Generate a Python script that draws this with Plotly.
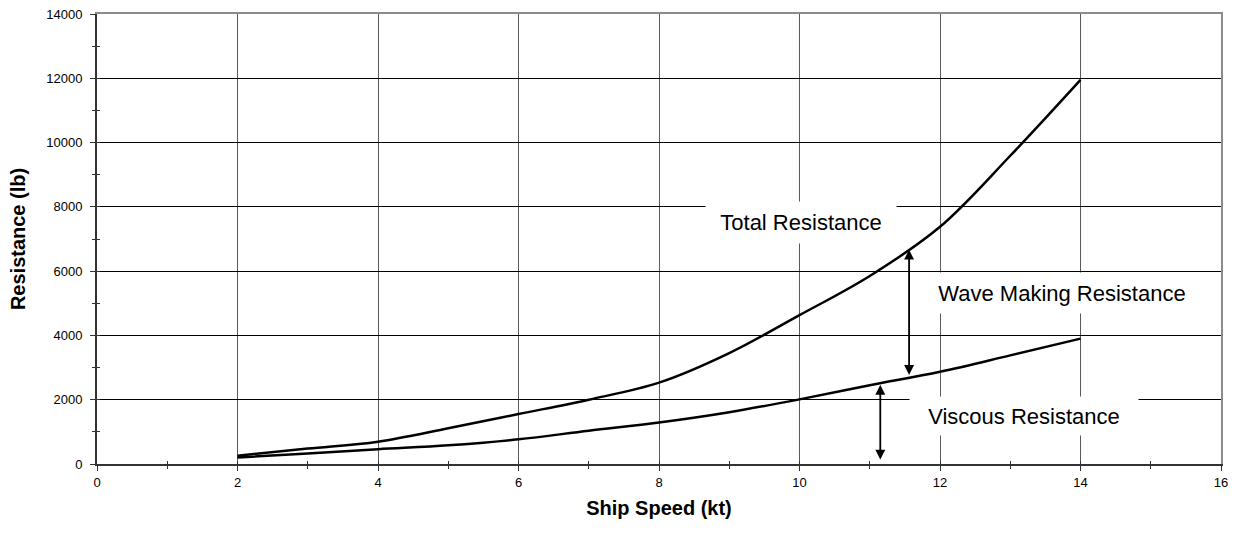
import numpy as np
import plotly.graph_objects as go

# Ship resistance curves
speed = [2, 3, 4, 5, 6, 7, 8, 9, 10, 11, 12, 13, 14]
total_resistance = [260, 480, 694, 1110, 1555, 2000, 2530, 3450, 4630, 5850, 7380, 9590, 11950]
viscous_resistance = [200, 330, 460, 580, 767, 1036, 1290, 1610, 2010, 2450, 2870, 3380, 3900]

wave_arrow_x = 11.56
viscous_arrow_x = 11.15

FONT = "Liberation Sans, Arial, sans-serif"

fig = go.Figure()

fig.add_trace(go.Scatter(x=speed, y=total_resistance, mode='lines', name='Total Resistance',
                         line=dict(color='black', width=2.5, shape='spline', smoothing=1.0),
                         showlegend=False))
fig.add_trace(go.Scatter(x=speed, y=viscous_resistance, mode='lines', name='Viscous Resistance',
                         line=dict(color='black', width=2.5, shape='spline', smoothing=1.0),
                         showlegend=False))

# empty traces so the helper axes (frame + crossing ticks) get drawn
fig.add_trace(go.Scatter(x=[], y=[], xaxis='x2', yaxis='y2', showlegend=False, hoverinfo='skip'))
fig.add_trace(go.Scatter(x=[], y=[], xaxis='x3', yaxis='y3', showlegend=False, hoverinfo='skip'))

# double headed arrows between the curves
top_wave = np.interp(wave_arrow_x, speed, total_resistance) - 40
bot_wave = np.interp(wave_arrow_x, speed, viscous_resistance) + 40
top_visc = np.interp(viscous_arrow_x, speed, viscous_resistance) - 50

arrow = dict(showarrow=True, arrowhead=2, arrowside='end+start', arrowsize=1.1, arrowwidth=1.8,
             arrowcolor='black', axref='x', ayref='y', text='', standoff=0, startstandoff=0)
fig.add_annotation(x=wave_arrow_x, y=top_wave, ax=wave_arrow_x, ay=bot_wave, **arrow)
fig.add_annotation(x=viscous_arrow_x, y=top_visc, ax=viscous_arrow_x, ay=90, **arrow)

# text labels with white boxes that hide the grid
label_font = dict(family=FONT, size=22, color='black')
fig.add_annotation(x=10.02, y=7520, text='Total Resistance', showarrow=False, font=label_font,
                   bgcolor='white', width=190, height=41, borderpad=0)
fig.add_annotation(x=13.73, y=5320, text='Wave Making Resistance', showarrow=False, font=label_font,
                   bgcolor='white', width=274, height=40, borderpad=0)
fig.add_annotation(x=13.19, y=1493, text='Viscous Resistance', showarrow=False, font=label_font,
                   bgcolor='white', width=228, height=38, borderpad=0)

tick_font = dict(family=FONT, size=13, color='black')
title_font = dict(family=FONT, size=20, color='black')

fig.update_layout(
    width=1239, height=533,
    margin=dict(l=97, r=18, t=14, b=69),
    paper_bgcolor='white', plot_bgcolor='white',
    font=dict(family=FONT, color='black'),
    xaxis=dict(range=[0, 16], dtick=2, tick0=0, tickformat='d', automargin=False,
               ticklabeloverflow='allow',
               showgrid=True, gridcolor='#5a5a5a', gridwidth=1,
               zeroline=False, showline=True, linecolor='#333333', linewidth=2,
               ticks='outside', ticklen=5, tickcolor='#333333', tickwidth=1,
               minor=dict(dtick=1, ticks='outside', ticklen=3, tickcolor='#333333', showgrid=False),
               tickfont=tick_font,
               title=dict(text='<b>Ship Speed (kt)</b>', font=title_font, standoff=12)),
    yaxis=dict(range=[0, 14000], dtick=2000, tick0=0, tickformat='d', automargin=False,
               ticklabeloverflow='allow', ticklabelstandoff=5,
               showgrid=True, gridcolor='black', gridwidth=1,
               zeroline=False, showline=True, linecolor='#333333', linewidth=2,
               ticks='outside', ticklen=5, tickcolor='#333333', tickwidth=1,
               minor=dict(dtick=1000, ticks='outside', ticklen=3, tickcolor='#333333', showgrid=False),
               tickfont=tick_font,
               title=dict(text='<b>Resistance (lb)</b>', font=title_font, standoff=15)),
    xaxis2=dict(range=[0, 16], overlaying='x', side='top', anchor='y2', automargin=False,
                showgrid=False, zeroline=False,
                showline=True, linecolor='#8c8c8c', linewidth=2, showticklabels=False, ticks=''),
    yaxis2=dict(range=[0, 14000], overlaying='y', side='right', anchor='x2', automargin=False,
                showgrid=False, zeroline=False,
                showline=True, linecolor='#8c8c8c', linewidth=2, showticklabels=False, ticks=''),
    xaxis3=dict(range=[0, 16], overlaying='x', side='bottom', anchor='y3', automargin=False,
                showgrid=False, zeroline=False,
                showline=False, showticklabels=False, dtick=1, ticks='inside', ticklen=3, tickcolor='#333333'),
    yaxis3=dict(range=[0, 14000], overlaying='y', side='left', anchor='x3', automargin=False,
                showgrid=False, zeroline=False,
                showline=False, showticklabels=False, dtick=1000, ticks='inside', ticklen=3, tickcolor='#333333'),
)

# drop the default 8px body margin so the chart fills the window exactly
fig.write_html("out.html", config={'displayModeBar': False},
               post_script="document.body.style.margin = '0';")
